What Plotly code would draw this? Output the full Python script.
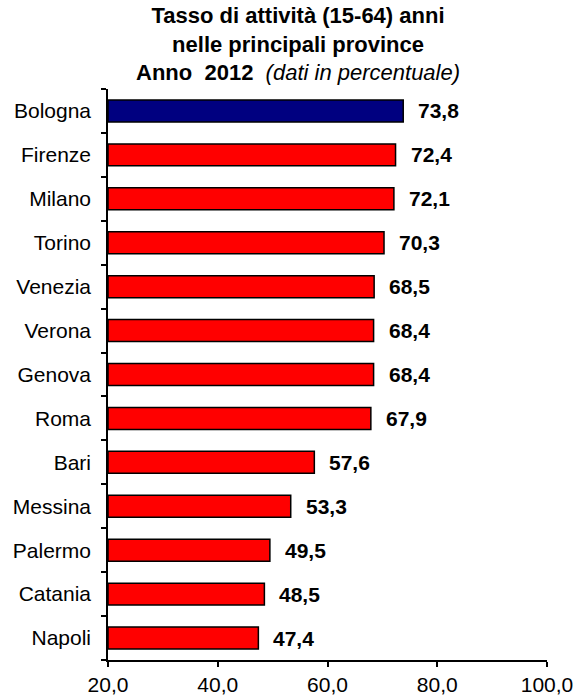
import plotly.graph_objects as go

provinces = ["Bologna", "Firenze", "Milano", "Torino", "Venezia", "Verona", "Genova",
             "Roma", "Bari", "Messina", "Palermo", "Catania", "Napoli"]
rates = [73.8, 72.4, 72.1, 70.3, 68.5, 68.4, 68.4, 67.9, 57.6, 53.3, 49.5, 48.5, 47.4]
x_ticks = [20, 40, 60, 80, 100]
x_tick_labels = ["20,0", "40,0", "60,0", "80,0", "100,0"]
title_lines = ["<b>Tasso di attività (15-64) anni</b>",
               "<b>nelle principali province</b>",
               "<b>Anno  2012</b>  <i>(dati in percentuale)</i>"]

colors = ["#000080" if p == "Bologna" else "#FF0000" for p in provinces]
FONT = "Liberation Sans, Arial"

fig = go.Figure()
fig.add_trace(go.Bar(
    y=provinces, x=[r - 20 for r in rates], base=20, orientation="h",
    marker=dict(color=colors, line=dict(color="black", width=1.5)),
    hoverinfo="skip",
))

for p, r in zip(provinces, rates):
    fig.add_annotation(x=r, y=p, text="<b>" + f"{r:.1f}".replace(".", ",") + "</b>",
                       xanchor="left", yanchor="middle", xshift=13, showarrow=False,
                       font=dict(family=FONT, size=21, color="black"))

fig.add_annotation(xref="paper", yref="paper", x=0.433, y=1, xanchor="center", yanchor="bottom",
                   yshift=2, showarrow=False, text="<br>".join(title_lines), align="center",
                   font=dict(family=FONT, size=22, color="black"))

fig.update_layout(
    width=578, height=695,
    margin=dict(l=108, r=31, t=89, b=35),
    plot_bgcolor="white", paper_bgcolor="white",
    showlegend=False,
    bargap=0.5,
    font=dict(family=FONT, size=21, color="black"),
    xaxis=dict(
        range=[20, 100], tickvals=x_ticks, ticktext=x_tick_labels,
        showgrid=False, zeroline=False, showline=True, linecolor="black", linewidth=1.5,
        ticks="outside", ticklen=5, tickcolor="black", tickwidth=1.5,
        tickfont=dict(size=21), automargin=False,
    ),
    yaxis=dict(
        categoryorder="array", categoryarray=provinces[::-1],
        showgrid=False, zeroline=False, showline=True, linecolor="black", linewidth=1.5,
        ticks="outside", ticklen=5, tickcolor="black", tickwidth=1.5, tickson="boundaries",
        tickfont=dict(size=21), automargin=False, ticklabelstandoff=11,
    ),
)

fig.write_html("out.html", config={"displayModeBar": False},
               post_script="document.body.style.margin='0px';")
